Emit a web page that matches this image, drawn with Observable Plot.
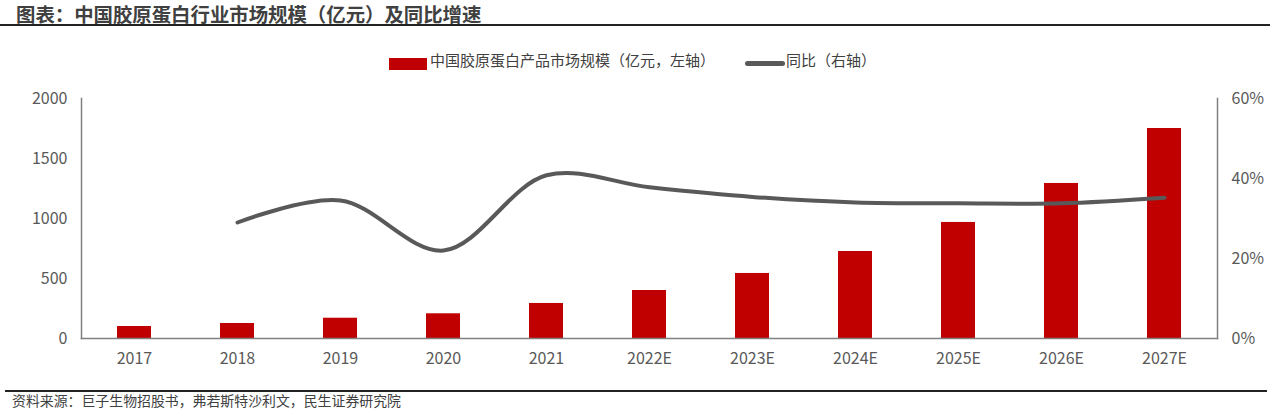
<!DOCTYPE html>
<html><head><meta charset="utf-8">
<script src="https://cdn.jsdelivr.net/npm/d3@7"></script>
<script src="https://cdn.jsdelivr.net/npm/@observablehq/plot@0.6"></script>
<style>
body{margin:0;background:#fff;font-family:"Noto Sans CJK SC","Noto Sans",sans-serif;}
#wrap{position:relative;width:1270px;height:410px;overflow:hidden;}
#title{position:absolute;left:16px;top:3px;font-size:19.4px;line-height:21px;font-weight:bold;color:#404040;}
#tline{position:absolute;left:0;top:24px;width:1270px;height:2px;background:#222;}
#legend{position:absolute;top:50px;left:0;width:1270px;font-size:15px;color:#404040;}
#chart{position:absolute;left:0;top:80px;}
#bline{position:absolute;left:5px;top:390px;width:1262px;height:1.5px;background:#222;}
#source{position:absolute;left:12px;top:393px;font-size:13.9px;line-height:15px;color:#404040;}
</style></head>
<body><div id="wrap">
<div id="title">图表：中国胶原蛋白行业市场规模（亿元）及同比增速</div>
<div id="tline"></div>
<div id="legend">
 <span style="position:absolute;left:389px;top:8px;width:38px;height:12px;background:#C00000"></span>
 <span style="position:absolute;left:430px;top:-1px">中国胶原蛋白产品市场规模（亿元，左轴）</span>
 <span style="position:absolute;left:745px;top:11px;width:40px;height:5px;border-radius:3px;background:#595959"></span>
 <span style="position:absolute;left:786px;top:-1px">同比（右轴）</span>
</div>
<div id="chart"></div>
<div id="bline"></div>
<div id="source">资料来源：巨子生物招股书，弗若斯特沙利文，民生证券研究院</div>
</div>
<script>
const years = ["2017","2018","2019","2020","2021","2022E","2023E","2024E","2025E","2026E","2027E"];
const marketSize = [100,125,169,206,292,400,542,725,967,1292,1750];
const growthYears = ["2018","2019","2020","2021","2022E","2023E","2024E","2025E","2026E","2027E"];
const growthPct = [29,34.5,22,40.8,37.8,35.4,34,33.8,33.8,35.2];
const leftTicks = [0,500,1000,1500,2000];
const rightTicks = [0,20,40,60];

const bars = years.map((y,i)=>({year:y,value:marketSize[i]}));
const k = 2000/60;
const line = growthYears.map((y,i)=>({year:y,v:growthPct[i]*k}));

const plot = Plot.plot({
  width:1270, height:295,
  marginLeft:81, marginRight:53, marginTop:18, marginBottom:37,
  style:{fontFamily:'"Noto Sans CJK SC","Noto Sans",sans-serif',fontSize:"16px",color:"#595959",background:"transparent"},
  x:{domain:years, paddingInner:0.67, paddingOuter:0.335, align:0.5},
  y:{domain:[0,2000]},
  marks:[
    Plot.barY(bars,{x:"year",y:"value",fill:"#C00000"}),
    Plot.line(line,{x:"year",y:"v",stroke:"#595959",strokeWidth:4,curve:"catmull-rom"}),
    Plot.axisY(leftTicks,{anchor:"left",tickSize:0,tickPadding:14,label:null,fontSize:16,tickFormat:d=>String(d)}),
    Plot.axisY(rightTicks.map(p=>p*k),{anchor:"right",tickSize:0,tickPadding:14,label:null,fontSize:16,tickFormat:d=>Math.round(d/k)+"%"}),
    Plot.axisX({tickSize:0,tickPadding:14,label:null,fontSize:16}),
    Plot.frame({stroke:"#808080",strokeWidth:1.5,anchor:"left"}),
    Plot.frame({stroke:"#808080",strokeWidth:1.5,anchor:"right"}),
    Plot.frame({stroke:"#808080",strokeWidth:1.5,anchor:"bottom"})
  ]
});
document.getElementById("chart").appendChild(plot);
</script>
</body></html>
